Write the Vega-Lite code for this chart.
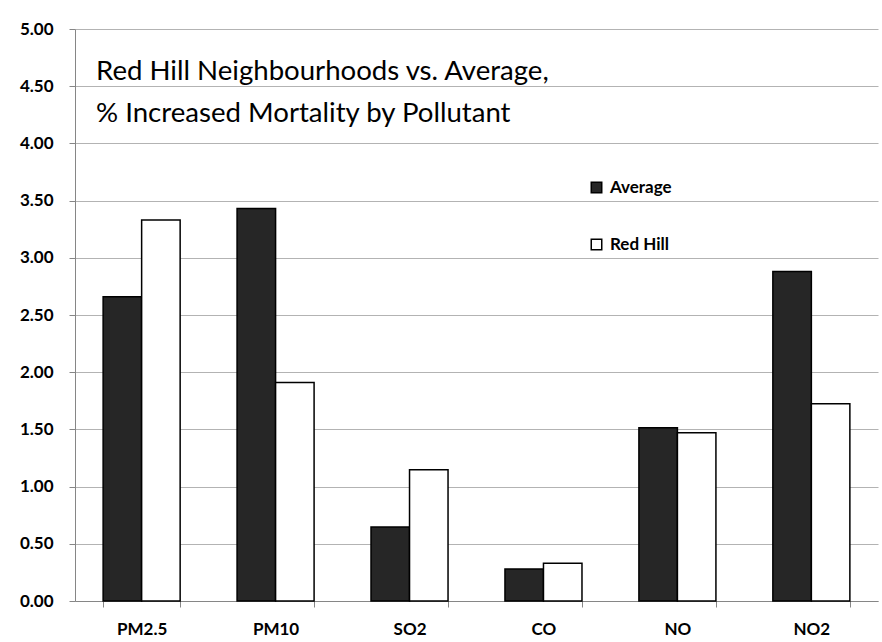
{
  "$schema": "https://vega.github.io/schema/vega-lite/v6.json",
  "width": 803,
  "height": 572,
  "autosize": {"type": "none"},
  "padding": {"left": 75, "top": 29, "right": 4, "bottom": 41},
  "background": "white",
  "config": {
    "view": {"stroke": null},
    "font": "Lato"
  },
  "title": {
    "text": ["Red Hill Neighbourhoods vs. Average,", "% Increased Mortality by Pollutant"],
    "orient": "top",
    "anchor": "start",
    "frame": "group",
    "offset": 0,
    "dx": 21,
    "dy": 108,
    "font": "Lato",
    "fontSize": 27.6,
    "fontWeight": "normal",
    "lineHeight": 42,
    "color": "#000000"
  },
  "data": {
    "values": [
      {"pollutant": "PM2.5", "series": "Average", "value": 2.66},
      {"pollutant": "PM2.5", "series": "Red Hill", "value": 3.33},
      {"pollutant": "PM10", "series": "Average", "value": 3.43},
      {"pollutant": "PM10", "series": "Red Hill", "value": 1.91},
      {"pollutant": "SO2", "series": "Average", "value": 0.647},
      {"pollutant": "SO2", "series": "Red Hill", "value": 1.148},
      {"pollutant": "CO", "series": "Average", "value": 0.28},
      {"pollutant": "CO", "series": "Red Hill", "value": 0.33},
      {"pollutant": "NO", "series": "Average", "value": 1.515},
      {"pollutant": "NO", "series": "Red Hill", "value": 1.47},
      {"pollutant": "NO2", "series": "Average", "value": 2.88},
      {"pollutant": "NO2", "series": "Red Hill", "value": 1.725}
    ]
  },
  "mark": {"type": "bar", "stroke": "#000000", "strokeWidth": 1.5},
  "encoding": {
    "x": {
      "field": "pollutant",
      "type": "nominal",
      "sort": ["PM2.5", "PM10", "SO2", "CO", "NO", "NO2"],
      "scale": {"paddingInner": 0.425, "paddingOuter": 0.21},
      "axis": {
        "title": null,
        "labelAngle": 0,
        "tickBand": "extent",
        "grid": false,
        "domainColor": "#868686",
        "domainWidth": 1,
        "tickColor": "#868686",
        "tickSize": 6,
        "labelPadding": 14,
        "labelFont": "Lato",
        "labelFontSize": 17,
        "labelFontWeight": "bold",
        "labelColor": "#000000"
      }
    },
    "xOffset": {
      "field": "series",
      "type": "nominal",
      "sort": ["Average", "Red Hill"],
      "scale": {"paddingInner": 0, "paddingOuter": 0}
    },
    "y": {
      "field": "value",
      "type": "quantitative",
      "scale": {"domain": [0, 5], "nice": false},
      "axis": {
        "title": null,
        "values": [0, 0.5, 1, 1.5, 2, 2.5, 3, 3.5, 4, 4.5, 5],
        "format": ".2f",
        "grid": true,
        "gridColor": "#b3b3b3",
        "gridWidth": 1,
        "domainColor": "#868686",
        "tickColor": "#868686",
        "tickSize": 6,
        "labelPadding": 16,
        "labelFont": "Lato",
        "labelFontSize": 17,
        "labelFontWeight": "bold",
        "labelColor": "#000000"
      }
    },
    "fill": {
      "field": "series",
      "type": "nominal",
      "sort": ["Average", "Red Hill"],
      "scale": {"domain": ["Average", "Red Hill"], "range": ["#262626", "#ffffff"]},
      "legend": {
        "title": null,
        "orient": "none",
        "legendX": 513,
        "legendY": 150,
        "symbolType": "square",
        "symbolSize": 110,
        "symbolStrokeColor": "#000000",
        "symbolStrokeWidth": 1.5,
        "rowPadding": 39,
        "labelFont": "Lato",
        "labelFontSize": 17,
        "labelFontWeight": "bold",
        "labelColor": "#000000",
        "labelOffset": 5
      }
    }
  }
}
